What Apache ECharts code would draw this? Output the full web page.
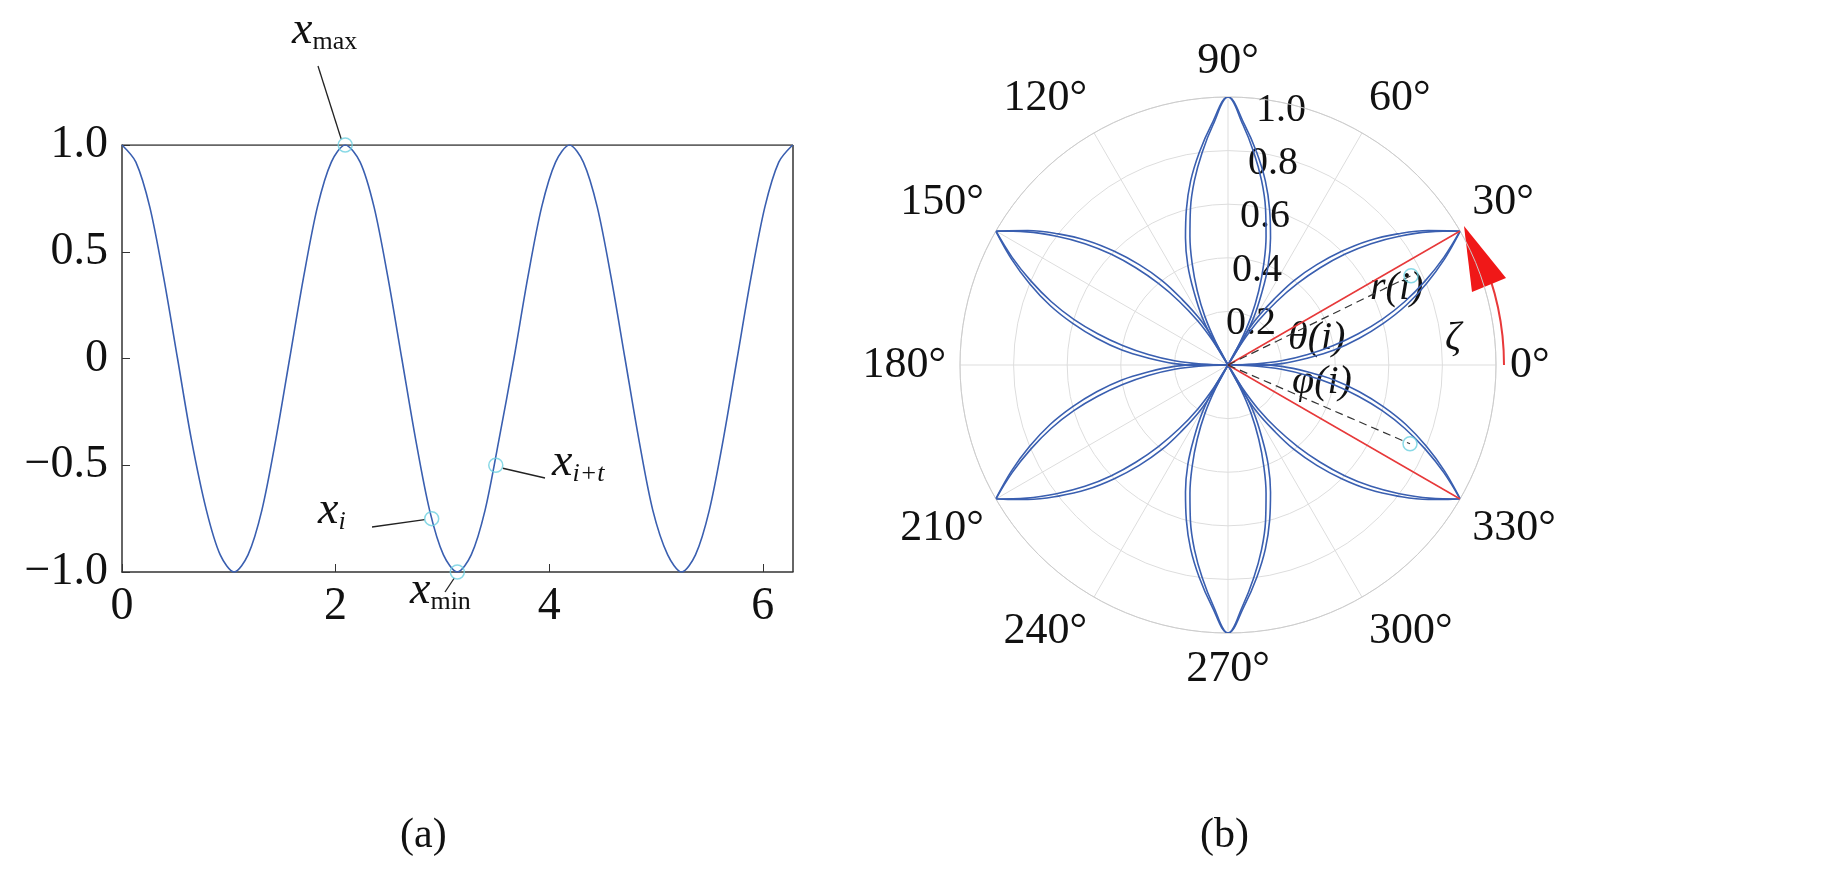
<!DOCTYPE html>
<html><head><meta charset="utf-8">
<script src="https://cdn.jsdelivr.net/npm/echarts@6/dist/echarts.min.js"></script>
<style>html,body{margin:0;background:#fff}#chart{width:1830px;height:895px}</style>
</head><body><div id="chart"></div>
<script>
// (a) curve samples, every pi/24
var curveX = [0,0.13,0.26,0.39,0.52,0.65,0.79,0.92,1.05,1.18,1.31,1.44,1.57,1.70,1.83,1.96,
  2.09,2.23,2.36,2.49,2.62,2.75,2.88,3.01,3.14,3.27,3.40,3.53,3.67,3.80,3.93,4.06,
  4.19,4.32,4.45,4.58,4.71,4.84,4.97,5.11,5.24,5.37,5.50,5.63,5.76,5.89,6.02,6.15,6.28];
var curveY = [1,0.92,0.71,0.38,0,-0.38,-0.71,-0.92,-1,-0.92,-0.71,-0.38,0,0.38,0.71,0.92,
  1,0.92,0.71,0.38,0,-0.38,-0.71,-0.92,-1,-0.92,-0.71,-0.38,0,0.38,0.71,0.92,
  1,0.92,0.71,0.38,0,-0.38,-0.71,-0.92,-1,-0.92,-0.71,-0.38,0,0.38,0.71,0.92,1];
var markPts = [[2.09,1],[2.9,-0.75],[3.14,-1],[3.5,-0.5]];
var xTicks = [0,2,4,6];
// (b) petal outline: radius and angular offset from petal axis (deg)
var petalR = [0,0.1,0.2,0.3,0.4,0.5,0.6,0.7,0.8,0.9,1.0];
var petalOuter = [34,31,28.5,25,22,18.5,15,11.5,7.7,3.9,0];
var petalInner = [31,28,25.5,22.5,19.5,16.5,13.5,10.3,6.9,3.5,0];
var petalAxes = [30,90,150,210,270,330];
var cyanPolar = [[0.76,26],[0.74,336.6]];
var radTicks = ['0.2','0.4','0.6','0.8','1.0'];
var radTickPos = [[1226,303],[1232,250],[1240,196],[1248,143],[1256,90]];

var blue = '#3a5fb0';
var serif = 'Liberation Serif';

function petal(axis, offs){
  var d = [];
  for (var i=0;i<petalR.length;i++) d.push([petalR[i], axis+offs[i]]);
  for (var j=petalR.length-1;j>=0;j--) d.push([petalR[j], axis-offs[j]]);
  return d;
}
var polarSeries = [];
petalAxes.forEach(function(a){
  [petalOuter, petalInner].forEach(function(o){
    polarSeries.push({type:'line', coordinateSystem:'polar', data:petal(a,o), smooth:0.4,
      showSymbol:false, lineStyle:{color:blue,width:1.6}, silent:true, z:3});
  });
});
polarSeries.push({type:'line',coordinateSystem:'polar',data:[[0,0],[1,30]],showSymbol:false,lineStyle:{color:'#e8393a',width:1.5},z:4});
polarSeries.push({type:'line',coordinateSystem:'polar',data:[[0,0],[1,330]],showSymbol:false,lineStyle:{color:'#e8393a',width:1.5},z:4});
cyanPolar.forEach(function(p){
  polarSeries.push({type:'line',coordinateSystem:'polar',data:[[0,0],p],showSymbol:false,lineStyle:{color:'#333',width:1.2,type:[8,5]},z:4});
});
polarSeries.push({type:'scatter',coordinateSystem:'polar',data:cyanPolar,symbol:'circle',symbolSize:14,
  itemStyle:{color:'none',borderColor:'#6cd0e0',borderWidth:1.5},z:5});

var chart = echarts.init(document.getElementById('chart'));
chart.setOption({
  animation:false,
  grid:{left:122,top:145,width:671,height:427},
  xAxis:{type:'value',min:0,max:6.2832,interval:2,
    axisLine:{onZero:false,lineStyle:{color:'#333',width:1.5}},axisTick:{inside:true,length:8,lineStyle:{color:'#333'}},
    splitLine:{show:false},
    axisLabel:{fontFamily:serif,fontSize:46,color:'#111',margin:12,showMaxLabel:false,
      formatter:function(v){return xTicks.indexOf(v)>=0?String(v):'';}}},
  yAxis:{type:'value',min:-1,max:1,interval:0.5,
    axisLine:{show:true,onZero:false,lineStyle:{color:'#333',width:1.5}},axisTick:{show:true,inside:true,length:8,lineStyle:{color:'#333'}},
    splitLine:{show:false},
    axisLabel:{fontFamily:serif,fontSize:46,color:'#111',margin:14,
      formatter:function(v){return v===0?'0':(v<0?'\u2212':'')+Math.abs(v).toFixed(1);}}},
  polar:{center:[1228,365],radius:268},
  angleAxis:{type:'value',min:0,max:360,interval:30,startAngle:0,clockwise:false,
    axisLine:{lineStyle:{color:'#ccc'}},axisTick:{show:false},
    splitLine:{lineStyle:{color:'#ddd'}},
    axisLabel:{fontFamily:serif,fontSize:44,color:'#111',margin:14,
      formatter:function(v){return v===360?'':v+'\u00b0';}}},
  radiusAxis:{type:'value',min:0,max:1,interval:0.2,
    axisLine:{show:false},axisTick:{show:false},axisLabel:{show:false},
    splitLine:{lineStyle:{color:'#ddd'}}},
  series:[
    {type:'line',data:curveX.map(function(x,i){return [x,curveY[i]];}),smooth:0.3,showSymbol:false,
      lineStyle:{color:blue,width:1.6},z:3},
    {type:'line',data:[[0,1],[6.2832,1]],showSymbol:false,lineStyle:{color:'#333',width:1.5},z:2},
    {type:'line',data:[[6.2832,-1],[6.2832,1]],showSymbol:false,lineStyle:{color:'#333',width:1.5},z:2},
    {type:'scatter',data:markPts,symbolSize:14,itemStyle:{color:'none',borderColor:'#6cd0e0',borderWidth:1.5},z:5}
  ].concat(polarSeries)
});

function px(p){return chart.convertToPixel({gridIndex:0},p);}
var rich = {x:{fontFamily:serif,fontStyle:'italic',fontSize:46,fill:'#111'},
            s:{fontFamily:serif,fontSize:26,fill:'#111',padding:[22,0,0,0]},
            si:{fontFamily:serif,fontStyle:'italic',fontSize:26,fill:'#111',padding:[22,0,0,0]}};
function lab(x,y,t){return {type:'text',left:x,top:y,style:{text:t,rich:rich}};}
function seg(a,b,c,w){return {type:'line',shape:{x1:a[0],y1:a[1],x2:b[0],y2:b[1]},style:{stroke:c||'#222',lineWidth:w||1.3}};}
var m = markPts.map(px);
var T = function(t,x,y,fs){return {type:'text',left:x,top:y,style:{text:t,fontFamily:serif,fontStyle:'italic',fontSize:fs||40,fill:'#111'}};};
var g = [
  lab(292,8,'{x|x}{s|max}'), seg([318,66],[m[0][0]-4,m[0][1]-6]),
  lab(318,488,'{x|x}{si|i}'), seg([372,527],[m[1][0]-7,m[1][1]+1]),
  lab(410,568,'{x|x}{s|min}'), seg([445,592],[m[2][0]-3,m[2][1]+6]),
  lab(552,440,'{x|x}{si|i+t}'), seg([545,478],[m[3][0]+7,m[3][1]+3]),
  {type:'text',left:400,top:815,style:{text:'(a)',fontFamily:serif,fontSize:42,fill:'#111'}},
  {type:'text',left:1200,top:815,style:{text:'(b)',fontFamily:serif,fontSize:42,fill:'#111'}},
  {type:'arc',shape:{cx:1228,cy:365,r:276,startAngle:-Math.PI/180*24,endAngle:0},style:{stroke:'#e8393a',lineWidth:2}},
  {type:'polygon',shape:{points:[[1464,226],[1506,278],[1472,292]]},style:{fill:'#f01818'}},
  T('θ(i)',1288,318), T('r(i)',1370,268), T('φ(i)',1292,362), T('ζ',1445,318)
];
radTicks.forEach(function(t,i){
  g.push({type:'text',left:radTickPos[i][0],top:radTickPos[i][1],style:{text:t,fontFamily:serif,fontSize:40,fill:'#111'}});
});
chart.setOption({graphic:g});
</script></body></html>
